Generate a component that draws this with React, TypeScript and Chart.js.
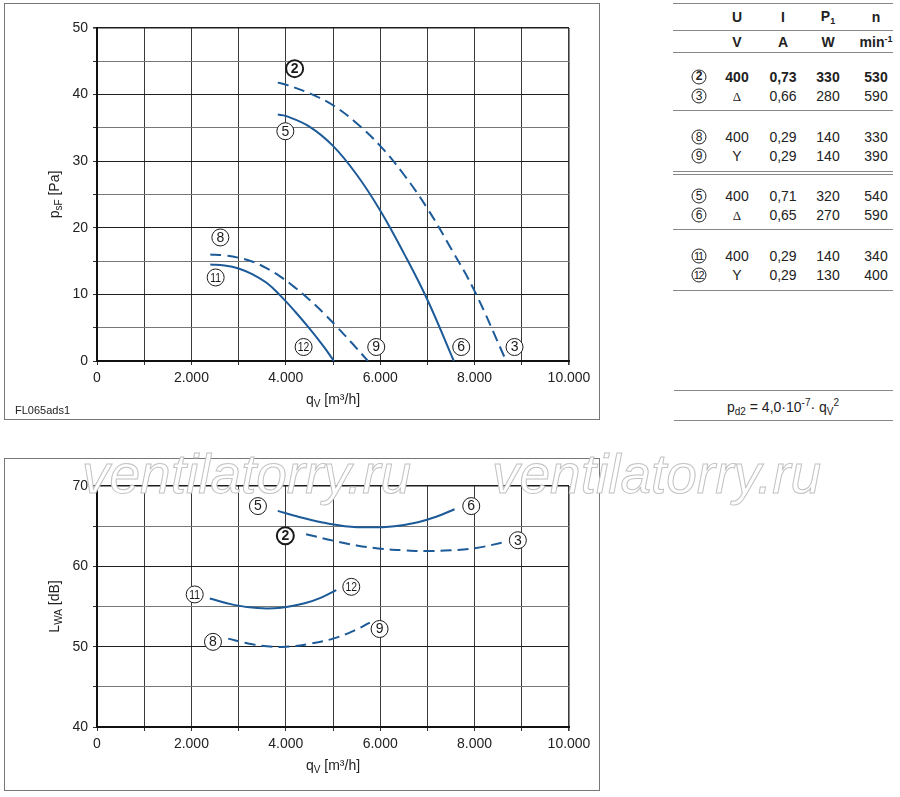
import React, { useEffect, useRef } from 'react';
import { Chart, registerables } from 'chart.js';

Chart.register(...registerables);

type Pt = [number, number];

// ---------- data ----------
const qTickLabels = ['0', '2.000', '4.000', '6.000', '8.000', '10.000'];
const pressureTickLabels = ['0', '10', '20', '30', '40', '50'];
const soundTickLabels = ['40', '50', '60', '70'];

// static pressure p_sF [Pa] vs q_V [m³/h]
const curve2P: Pt[] = [[3830, 41.8], [4000, 41.5], [4500, 40.2], [5000, 38.4], [5500, 35.7], [6000, 32.3], [6500, 28.0], [7000, 22.9], [7500, 16.9], [8000, 10.5], [8670, 0]];
const curve5P: Pt[] = [[3830, 37.0], [4000, 36.8], [4500, 35.2], [5000, 32.3], [5500, 28.0], [6000, 22.6], [6500, 16.2], [7000, 9.2], [7560, 0]];
const curve8P: Pt[] = [[2400, 16.0], [2700, 15.85], [3000, 15.5], [3300, 14.9], [3600, 13.9], [3900, 12.6], [4200, 11.0], [4500, 9.2], [4800, 7.2], [5100, 5.0], [5400, 2.7], [5740, 0]];
const curve11P: Pt[] = [[2400, 14.5], [2700, 14.35], [3000, 13.9], [3300, 13.0], [3600, 11.7], [3900, 9.7], [4200, 7.4], [4500, 4.9], [4800, 2.2], [5020, 0]];

// sound power L_WA [dB] vs q_V [m³/h]
const curve5L: Pt[] = [[3830, 66.9], [4250, 66.2], [4750, 65.5], [5250, 65.0], [5800, 64.85], [6300, 65.0], [6800, 65.5], [7200, 66.2], [7575, 67.1]];
const curve2L: Pt[] = [[4430, 64.0], [5000, 63.2], [5500, 62.6], [6000, 62.2], [6500, 62.0], [7000, 61.9], [7500, 62.0], [8000, 62.25], [8670, 63.05]];
const curve11L: Pt[] = [[2390, 56.0], [2900, 55.2], [3400, 54.8], [3900, 54.85], [4400, 55.4], [4750, 56.1], [5070, 57.05]];
const curve8L: Pt[] = [[2780, 51.0], [3200, 50.4], [3600, 50.05], [4000, 50.0], [4500, 50.35], [5000, 51.0], [5450, 52.0], [5780, 53.0]];

// curve-number markers
const pressureMarkerIds = ['2', '5', '8', '11', '12', '9', '6', '3'];
const pressureMarkerQ = [4187, 3990, 2613, 2514, 4377, 5916, 7717, 8846];
const pressureMarkerV = [43.9, 34.5, 18.55, 12.54, 2.1, 2.1, 2.1, 2.1];
const soundMarkerIds = ['5', '6', '2', '3', '11', '12', '8', '9'];
const soundMarkerQ = [3410, 7929, 3990, 8916, 2070, 5387, 2457, 5987];
const soundMarkerV = [67.5, 67.5, 63.8, 63.25, 56.5, 57.45, 50.6, 52.2];

// table
const tableCurves = ['2', '3', '8', '9', '5', '6', '11', '12'];
const tableU = ['400', 'Δ', '400', 'Y', '400', 'Δ', '400', 'Y'];
const tableI = ['0,73', '0,66', '0,29', '0,29', '0,71', '0,65', '0,29', '0,29'];
const tableP = ['330', '280', '140', '140', '320', '270', '140', '130'];
const tableN = ['530', '590', '330', '390', '540', '590', '340', '400'];

// ---------- styling ----------
const FONT = "'Liberation Sans', Arial, Helvetica, sans-serif";
const BLUE = '#1c5a98';

type Piece = { t: string; size: number; dy: number };

function drawPieces(ctx: CanvasRenderingContext2D, pieces: Piece[], cx: number, cy: number, rotate: boolean) {
  ctx.save();
  ctx.translate(cx, cy);
  if (rotate) ctx.rotate(-Math.PI / 2);
  ctx.fillStyle = '#222';
  ctx.textBaseline = 'middle';
  ctx.textAlign = 'left';
  let total = 0;
  const widths = pieces.map((p) => {
    ctx.font = `${p.size}px ${FONT}`;
    const w = ctx.measureText(p.t).width;
    total += w;
    return w;
  });
  let x = -total / 2;
  pieces.forEach((p, i) => {
    ctx.font = `${p.size}px ${FONT}`;
    ctx.fillText(p.t, x, p.dy);
    x += widths[i];
  });
  ctx.restore();
}

function markerPlugin(ids: string[], qs: number[], vs: number[]) {
  return {
    id: 'curveMarkers',
    afterDatasetsDraw(chart: any) {
      const { ctx, scales } = chart;
      ids.forEach((id, i) => {
        const px = scales.x.getPixelForValue(qs[i]);
        const py = scales.y.getPixelForValue(vs[i]);
        const bold = id === '2';
        ctx.save();
        ctx.beginPath();
        ctx.arc(px, py, 8.5, 0, Math.PI * 2);
        ctx.fillStyle = '#fff';
        ctx.fill();
        ctx.lineWidth = bold ? 2 : 1;
        ctx.strokeStyle = '#1a1a1a';
        ctx.stroke();
        ctx.translate(px, py + 0.5);
        if (id.length > 1) ctx.scale(0.8, 1);
        ctx.fillStyle = '#1a1a1a';
        ctx.font = `${bold ? 'bold ' : ''}${id.length > 1 ? 13 : 14}px ${FONT}`;
        ctx.textAlign = 'center';
        ctx.textBaseline = 'middle';
        ctx.fillText(id, 0, 0);
        ctx.restore();
      });
    },
  };
}

function titlePlugin(yTitle: Piece[]) {
  return {
    id: 'axisTitles',
    afterDraw(chart: any) {
      const { ctx, chartArea } = chart;
      const cx = (chartArea.left + chartArea.right) / 2;
      const cy = (chartArea.top + chartArea.bottom) / 2;
      drawPieces(ctx, [
        { t: 'q', size: 14, dy: 0 },
        { t: 'V', size: 10, dy: 4 },
        { t: ' [m³/h]', size: 14, dy: 0 },
      ], cx, chartArea.bottom + 39, false);
      drawPieces(ctx, yTitle, 50, cy, true);
    },
  };
}

function line(data: Pt[], dashed: boolean) {
  return {
    data: data.map(([x, y]) => ({ x, y })),
    showLine: true,
    borderColor: BLUE,
    borderWidth: 2,
    borderDash: dashed ? [11, 6] : [],
    pointRadius: 0,
    tension: 0.4,
    fill: false,
  };
}

function buildConfig(o: {
  datasets: any[]; yMin: number; yMax: number; yLabels: string[]; padTop: number; xH: number;
  ids: string[]; qs: number[]; vs: number[]; yTitle: Piece[];
}): any {
  return {
    type: 'scatter',
    data: { datasets: o.datasets },
    options: {
      animation: false,
      responsive: false,
      events: [],
      layout: { padding: { top: o.padTop, right: 30, left: 0, bottom: 0 } },
      plugins: { legend: { display: false }, tooltip: { enabled: false } },
      scales: {
        x: {
          type: 'linear', min: 0, max: 10000,
          afterFit: (s: any) => { s.height = o.xH; },
          ticks: {
            stepSize: 1000, autoSkip: false, maxRotation: 0, padding: 5, color: '#222',
            font: { size: 14, family: FONT },
            callback: (v: number) => (v % 2000 === 0 ? qTickLabels[v / 2000] : ''),
          },
          grid: {
            color: '#3a3a3a',
            lineWidth: (c: any) => (c.tick && c.tick.value === 10000 ? 1.6 : 1),
            tickLength: 4, tickColor: '#333',
          },
          border: { color: '#111', width: 2 },
        },
        y: {
          type: 'linear', min: o.yMin, max: o.yMax,
          afterFit: (s: any) => { s.width = 92; },
          ticks: {
            stepSize: 5, autoSkip: false, padding: 5, color: '#222',
            font: { size: 14, family: FONT },
            callback: (v: number) => (v % 10 === 0 ? o.yLabels[(v - o.yMin) / 10] : ''),
          },
          grid: {
            color: (c: any) => (c.tick && c.tick.value % 10 === 0 ? '#1e1e1e' : '#777'),
            lineWidth: (c: any) => (c.tick && c.tick.value === o.yMax ? 1.6 : 1),
            tickLength: 4, tickColor: '#333',
          },
          border: { color: '#111', width: 2 },
        },
      },
    },
    plugins: [markerPlugin(o.ids, o.qs, o.vs), titlePlugin(o.yTitle)],
  };
}

const abs = (x: number, y: number, extra: React.CSSProperties = {}): React.CSSProperties => ({
  position: 'absolute', left: x, top: y, transform: 'translate(-50%, -50%)', whiteSpace: 'nowrap', lineHeight: 1, ...extra,
});

function Circ({ id }: { id: string }) {
  const bold = id === '2';
  return (
    <span style={{
      display: 'inline-block', width: 15, height: 15, borderRadius: '50%',
      border: `${bold ? 1.8 : 1}px solid #222`, boxSizing: 'border-box',
      fontSize: id.length > 1 ? 11 : 12, lineHeight: bold ? '11.5px' : '13px', textAlign: 'center',
      fontWeight: bold ? 'bold' : 'normal', letterSpacing: id.length > 1 ? -1.3 : 0,
      textIndent: id.length > 1 ? -1 : 0,
    }}>{id}</span>
  );
}

export default function App() {
  const topRef = useRef<HTMLCanvasElement>(null);
  const botRef = useRef<HTMLCanvasElement>(null);

  useEffect(() => {
    Chart.defaults.font.family = FONT;
    const c1 = new Chart(topRef.current as HTMLCanvasElement, buildConfig({
      datasets: [line(curve2P, true), line(curve5P, false), line(curve8P, true), line(curve11P, false)],
      yMin: 0, yMax: 50, yLabels: pressureTickLabels, padTop: 24, xH: 58,
      ids: pressureMarkerIds, qs: pressureMarkerQ, vs: pressureMarkerV,
      yTitle: [{ t: 'p', size: 14, dy: 0 }, { t: 'sF', size: 10, dy: 4 }, { t: ' [Pa]', size: 14, dy: 0 }],
    }));
    const c2 = new Chart(botRef.current as HTMLCanvasElement, buildConfig({
      datasets: [line(curve5L, false), line(curve2L, true), line(curve11L, false), line(curve8L, true)],
      yMin: 40, yMax: 70, yLabels: soundTickLabels, padTop: 27, xH: 63,
      ids: soundMarkerIds, qs: soundMarkerQ, vs: soundMarkerV,
      yTitle: [{ t: 'L', size: 14, dy: 0 }, { t: 'WA', size: 10, dy: 4 }, { t: ' [dB]', size: 14, dy: 0 }],
    }));
    return () => { c1.destroy(); c2.destroy(); };
  }, []);

  const rowY = [77, 96, 137, 155.5, 196, 215, 256, 274.5];
  const colX = [699, 737, 783, 828, 876];
  const hLines = [3, 30, 52, 110, 171, 174, 229, 290];
  const cell = (x: number, y: number, bold: boolean, extra: React.CSSProperties = {}) =>
    abs(x, y, { fontSize: 14, fontWeight: bold ? 'bold' : 'normal', ...extra });

  return (
    <div style={{ position: 'absolute', left: 0, top: 0, width: 900, height: 797, background: '#fff', fontFamily: FONT, color: '#222', overflow: 'hidden' }}>
      {/* top chart box */}
      <div style={{ position: 'absolute', left: 4, top: 3, width: 596, height: 417, border: '1px solid #777', boxSizing: 'border-box' }}>
        <canvas ref={topRef} width={594} height={415} style={{ position: 'absolute', left: 0, top: 0, width: 594, height: 415 }} />
        <div style={{ position: 'absolute', left: 10, top: 401, fontSize: 11, lineHeight: 1 }}>FL065ads1</div>
      </div>
      {/* bottom chart box */}
      <div style={{ position: 'absolute', left: 4, top: 458, width: 596, height: 333, border: '1px solid #777', boxSizing: 'border-box' }}>
        <canvas ref={botRef} width={594} height={331} style={{ position: 'absolute', left: 0, top: 0, width: 594, height: 331 }} />
      </div>

      {/* table */}
      {hLines.map((y, i) => (
        <div key={'l' + i} style={{ position: 'absolute', left: 673, top: y, width: 220, height: 0, borderTop: '1px solid #888' }} />
      ))}
      <div style={cell(colX[1], 17, true)}>U</div>
      <div style={cell(colX[2], 17, true)}>I</div>
      <div style={cell(colX[3], 17, true)}>P<sub style={{ fontSize: 9, verticalAlign: -3 }}>1</sub></div>
      <div style={cell(colX[4], 17, true)}>n</div>
      <div style={cell(colX[1], 42, true)}>V</div>
      <div style={cell(colX[2], 42, true)}>A</div>
      <div style={cell(colX[3], 42, true)}>W</div>
      <div style={cell(colX[4], 42, true)}>min<sup style={{ fontSize: 9, verticalAlign: 5 }}>-1</sup></div>
      {tableCurves.map((id, i) => {
        const bold = id === '2';
        const serif = tableU[i] === 'Δ';
        return (
          <React.Fragment key={'r' + i}>
            <div style={abs(colX[0], rowY[i], { display: 'flex' })}><Circ id={id} /></div>
            <div style={cell(colX[1], rowY[i], bold, serif ? { fontFamily: "'Liberation Serif', serif", fontSize: 13 } : {})}>{tableU[i]}</div>
            <div style={cell(colX[2], rowY[i], bold)}>{tableI[i]}</div>
            <div style={cell(colX[3], rowY[i], bold)}>{tableP[i]}</div>
            <div style={cell(colX[4], rowY[i], bold)}>{tableN[i]}</div>
          </React.Fragment>
        );
      })}

      {/* formula */}
      <div style={{ position: 'absolute', left: 674, top: 390, width: 219, height: 0, borderTop: '1px solid #888' }} />
      <div style={{ position: 'absolute', left: 674, top: 420, width: 219, height: 0, borderTop: '1px solid #888' }} />
      <div style={abs(783, 407, { fontSize: 14 })}>
        p<sub style={{ fontSize: 10, verticalAlign: -3 }}>d2</sub> = 4,0·10<sup style={{ fontSize: 10, verticalAlign: 6 }}>-7</sup>· q<sub style={{ fontSize: 10, verticalAlign: -3 }}>V</sub><sup style={{ fontSize: 10, verticalAlign: 6 }}>2</sup>
      </div>

      {/* watermark */}
      {[82, 492].map((x, i) => (
        <div key={'w' + i} style={{
          position: 'absolute', left: x, top: 447, fontSize: 55, lineHeight: '55px', fontStyle: 'italic',
          fontFamily: FONT, color: '#fff', WebkitTextStroke: '1px #c2c2c2', whiteSpace: 'nowrap', pointerEvents: 'none',
        } as React.CSSProperties}>ventilatorry.ru</div>
      ))}
    </div>
  );
}
